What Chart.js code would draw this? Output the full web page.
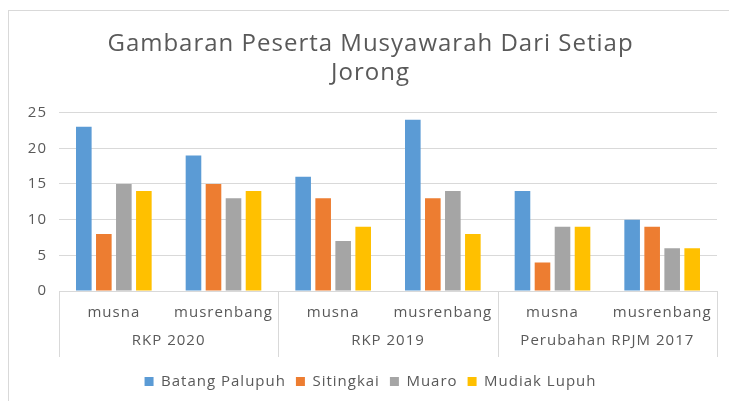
<!DOCTYPE html>
<html>
<head>
<meta charset="utf-8">
<script src="https://cdn.jsdelivr.net/npm/chart.js@4.4.1/dist/chart.umd.min.js"></script>
<style>
    html, body { margin: 0; padding: 0; background: #fff; overflow: hidden; }
    .frame {
        position: absolute; left: 8px; top: 10px; width: 760px; height: 420px;
        border-left: 1px solid #d9d9d9; border-top: 1px solid #d9d9d9;
    }
    .wrap { position: absolute; left: 0; top: 0; width: 729px; height: 401px; }
</style>
</head>
<body>
<div class="frame"></div>
<div class="wrap"><canvas id="myChart" width="729" height="401"></canvas></div>
<script>
const subLabels = ['musna', 'musrenbang', 'musna', 'musrenbang', 'musna', 'musrenbang'];
const groupLabels = ['RKP 2020', 'RKP 2019', 'Perubahan RPJM 2017'];

const batangPalupuh = [23, 19, 16, 24, 14, 10];
const sitingkai = [8, 15, 13, 13, 4, 9];
const muaro = [15, 13, 7, 14, 9, 6];
const mudiakLupuh = [14, 14, 9, 8, 9, 6];

const textColor = '#595959';
const lineColor = '#d9d9d9';
const fontFamily = "'Open Sans', 'Noto Sans', sans-serif";

// the original text is rendered wide, so space the letters a bit
const spacingPlugin = {
    id: 'letterSpacing',
    beforeUpdate(chart) { chart.ctx.letterSpacing = '1px'; },
    beforeDraw(chart) { chart.ctx.letterSpacing = '1px'; }
};

// draws the second row of the x axis (group names + separator lines)
const groupPlugin = {
    id: 'groupLabels',
    afterDraw(chart) {
        const { ctx, scales: { x } } = chart;
        const step = x.getPixelForValue(1) - x.getPixelForValue(0);
        const top = chart.chartArea.bottom;
        const bottom = top + 66;
        ctx.save();
        ctx.strokeStyle = lineColor;
        ctx.lineWidth = 1;
        ctx.fillStyle = textColor;
        ctx.font = '15px ' + fontFamily;
        ctx.textAlign = 'center';
        ctx.textBaseline = 'middle';
        groupLabels.forEach((label, i) => {
            const left = x.getPixelForValue(i * 2) - step / 2;
            const right = x.getPixelForValue(i * 2 + 1) + step / 2;
            ctx.beginPath();
            ctx.moveTo(Math.round(left) + 0.5, top);
            ctx.lineTo(Math.round(left) + 0.5, bottom);
            if (i === groupLabels.length - 1) {
                ctx.moveTo(Math.round(right) + 0.5, top);
                ctx.lineTo(Math.round(right) + 0.5, bottom);
            }
            ctx.stroke();
            ctx.fillText(label, (left + right) / 2, top + 50);
        });
        ctx.restore();
    }
};

const ctx = document.getElementById('myChart').getContext('2d');
const myChart = new Chart(ctx, {
    type: 'bar',
    data: {
        labels: subLabels,
        datasets: [
            { label: 'Batang Palupuh', data: batangPalupuh, backgroundColor: '#5B9BD5' },
            { label: 'Sitingkai', data: sitingkai, backgroundColor: '#ED7D31' },
            { label: 'Muaro', data: muaro, backgroundColor: '#A5A5A5' },
            { label: 'Mudiak Lupuh', data: mudiakLupuh, backgroundColor: '#FFC000' }
        ]
    },
    options: {
        responsive: false,
        animation: false,
        datasets: {
            bar: { categoryPercentage: 0.73, barPercentage: 0.78 }
        },
        layout: { padding: { left: 24, right: 12, top: 0, bottom: 2 } },
        scales: {
            x: {
                grid: { display: false },
                border: { display: true, color: lineColor },
                ticks: { color: textColor, font: { family: fontFamily, size: 15 }, padding: 5, maxRotation: 0 },
                afterFit: (scale) => { scale.height = 73; }
            },
            y: {
                min: 0,
                max: 25,
                ticks: { stepSize: 5, color: textColor, font: { family: fontFamily, size: 15 }, padding: 12 },
                grid: { color: lineColor, drawTicks: false },
                border: { display: false },
                afterFit: (scale) => { scale.width = 35; }
            }
        },
        plugins: {
            title: {
                display: true,
                text: ['Gambaran Peserta Musyawarah Dari Setiap', 'Jorong'],
                color: textColor,
                font: { family: fontFamily, size: 24, weight: 'normal', lineHeight: 1.2 },
                padding: { top: 30, bottom: 25 }
            },
            legend: {
                position: 'bottom',
                labels: {
                    color: textColor,
                    font: { family: fontFamily, size: 15 },
                    boxWidth: 9,
                    boxHeight: 9,
                    padding: 10
                }
            },
            tooltip: { enabled: false }
        }
    },
    plugins: [spacingPlugin, groupPlugin]
});
</script>
</body>
</html>
